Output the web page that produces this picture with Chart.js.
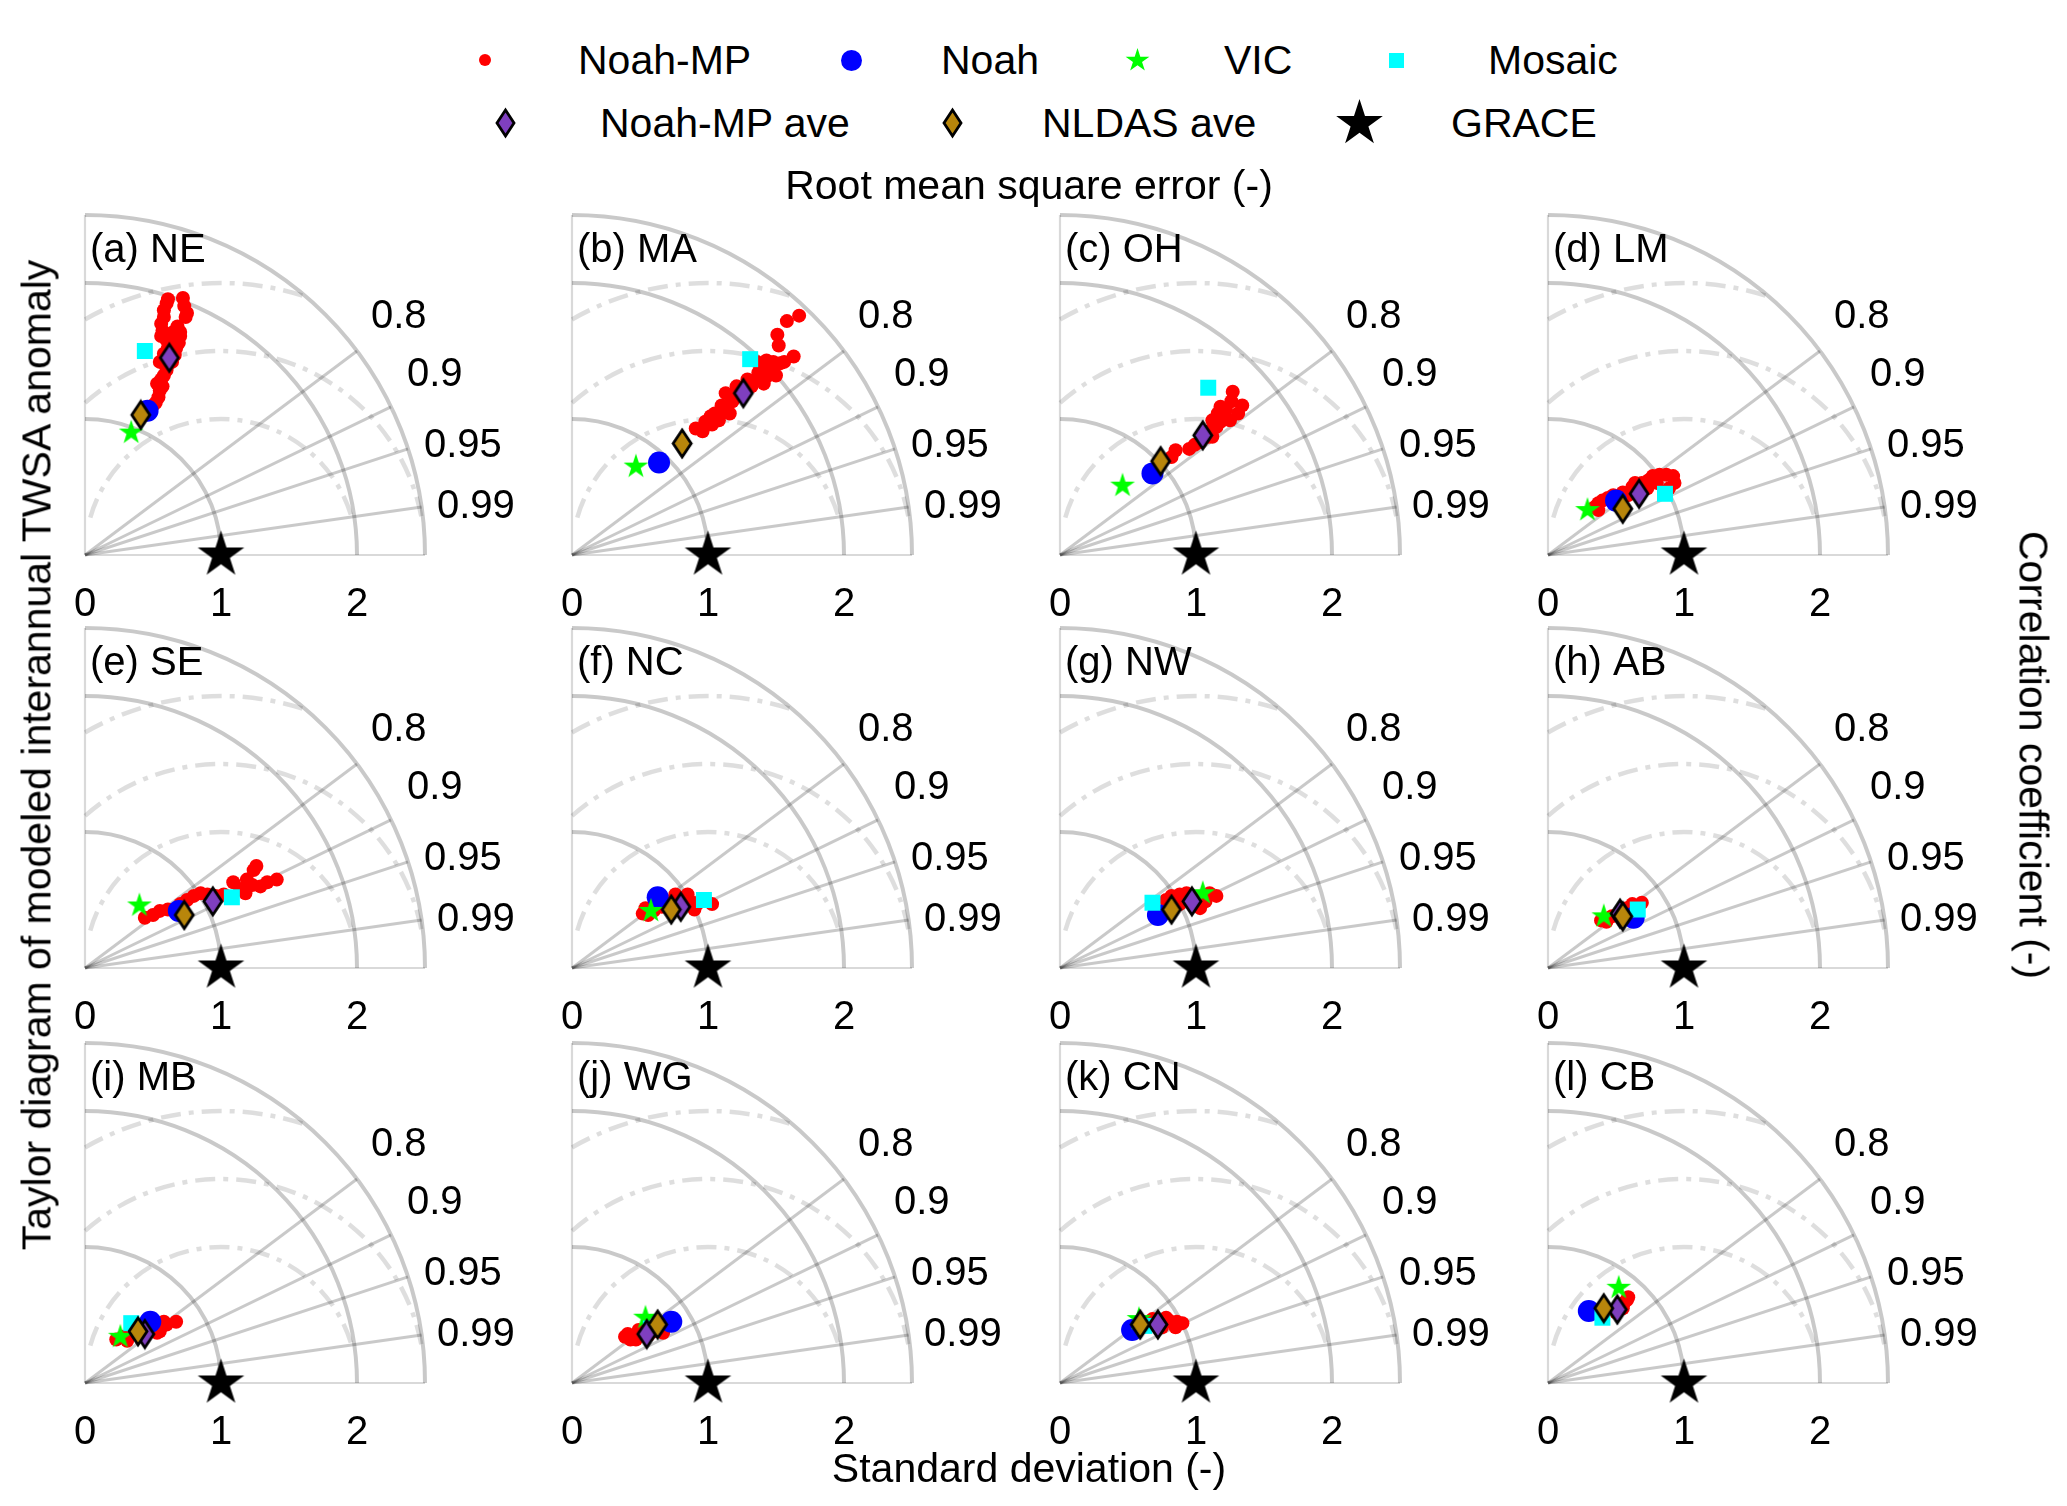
<!DOCTYPE html>
<html>
<head>
<meta charset="utf-8">
<script src="https://cdn.jsdelivr.net/npm/chart.js@4.4.1/dist/chart.umd.min.js"></script>
<style>
  body { margin: 0; background: #fff; }
  #page { position: relative; width: 2067px; height: 1506px; overflow: hidden; background: #fff;
          font-family: "Liberation Sans", Arial, sans-serif; color: #000; }
  .abs { position: absolute; }
  .txt { position: absolute; font-size: 41px; line-height: 41px; white-space: nowrap; }
</style>
</head>
<body>
<div id="page"></div>
<script>
// ---- data (x = std * R, y = std * sqrt(1 - R^2), normalised by GRACE std) ----
const regions = ['(a) NE', '(b) MA', '(c) OH', '(d) LM', '(e) SE', '(f) NC',
                 '(g) NW', '(h) AB', '(i) MB', '(j) WG', '(k) CN', '(l) CB'];
const seriesNames = ['Noah-MP', 'Noah', 'VIC', 'Mosaic', 'Noah-MP ave', 'NLDAS ave', 'GRACE'];
const stdTicks = [0, 1, 2];
const stdArcs = [1, 2, 2.5];
const corrTicks = [0.8, 0.9, 0.95, 0.99];
const rmsArcs = [1, 1.5, 2];
const grace = [1, 0];

const noahPts = [[0.46,1.06],[0.64,0.68],[0.68,0.60],[0.50,0.40],[0.69,0.42],[0.63,0.52],
                 [0.72,0.39],[0.63,0.37],[0.48,0.45],[0.73,0.45],[0.53,0.39],[0.30,0.53]];
const vicPts = [[0.34,0.90],[0.47,0.65],[0.46,0.51],[0.29,0.33],[0.40,0.46],[0.58,0.42],
                [1.05,0.55],[0.41,0.38],[0.26,0.34],[0.54,0.48],[0.58,0.47],[0.52,0.70]];
const mosaicPts = [[0.44,1.50],[1.31,1.44],[1.09,1.23],[0.86,0.45],[1.08,0.52],[0.97,0.50],
                   [0.68,0.48],[0.66,0.43],[0.34,0.44],[0.58,0.40],[0.62,0.42],[0.40,0.48]];
const mpAvePts = [[0.62,1.45],[1.26,1.19],[1.05,0.88],[0.67,0.45],[0.94,0.49],[0.80,0.45],
                  [0.97,0.49],[0.53,0.40],[0.44,0.36],[0.55,0.36],[0.72,0.43],[0.51,0.54]];
const nldasAvePts = [[0.41,1.03],[0.81,0.82],[0.74,0.69],[0.55,0.34],[0.73,0.39],[0.73,0.43],
                     [0.82,0.43],[0.55,0.38],[0.39,0.38],[0.63,0.43],[0.59,0.43],[0.41,0.55]];

const mpNE = [[0.52,1.12],[0.54,1.16],[0.55,1.21],[0.53,1.26],[0.56,1.29],[0.58,1.32],[0.60,1.36],
  [0.61,1.40],[0.64,1.42],[0.66,1.47],[0.67,1.52],[0.69,1.56],[0.70,1.61],[0.70,1.64],[0.68,1.68],
  [0.65,1.64],[0.62,1.61],[0.60,1.58],[0.56,1.61],[0.57,1.65],[0.56,1.70],[0.58,1.75],[0.58,1.80],
  [0.60,1.85],[0.61,1.88],[0.72,1.89],[0.73,1.83],[0.75,1.78],[0.74,1.75],[0.61,1.52],[0.58,1.48],
  [0.55,1.42],[0.50,1.10],[0.57,1.24]];
const mpMA = [[0.91,0.93],[0.96,0.91],[0.98,0.98],[1.03,0.96],[1.05,1.04],[1.08,0.99],[1.12,1.07],
  [1.13,1.19],[1.16,1.04],[1.18,1.13],[1.20,1.16],[1.21,1.24],[1.29,1.29],[1.32,1.24],[1.35,1.29],
  [1.37,1.34],[1.41,1.26],[1.43,1.31],[1.46,1.36],[1.50,1.32],[1.43,1.43],[1.48,1.42],[1.53,1.41],
  [1.56,1.42],[1.63,1.46],[1.52,1.54],[1.51,1.62],[1.58,1.72],[1.67,1.76],[1.36,1.42],[1.02,1.02],
  [1.10,1.10],[1.25,1.22],[1.40,1.38]];
const mpOH = [[0.95,0.78],[0.99,0.81],[1.03,0.83],[1.09,0.87],[1.11,0.92],[1.15,0.94],[1.12,0.99],
  [1.18,0.98],[1.16,1.04],[1.21,1.02],[1.22,1.07],[1.25,0.99],[1.18,1.09],[1.26,1.13],[1.27,1.20],
  [1.34,1.10],[1.31,1.04],[1.12,0.87],[0.85,0.77],[0.82,0.72]];
const mpLM = [[0.37,0.38],[0.40,0.40],[0.44,0.42],[0.62,0.50],[0.64,0.53],[0.69,0.53],[0.74,0.55],
  [0.77,0.58],[0.82,0.59],[0.87,0.59],[0.92,0.58],[0.93,0.53],[0.89,0.49],[0.73,0.49],[0.59,0.44],
  [0.37,0.33],[0.48,0.44],[0.55,0.46],[0.80,0.53],[0.34,0.35]];
const mpSE = [[0.44,0.37],[0.50,0.39],[0.55,0.42],[0.61,0.43],[0.75,0.50],[0.80,0.53],[0.85,0.55],
  [0.90,0.54],[1.02,0.54],[1.09,0.63],[1.14,0.58],[1.19,0.65],[1.24,0.72],[1.26,0.75],[1.23,0.61],
  [1.29,0.60],[1.34,0.63],[1.41,0.65],[1.18,0.55],[0.70,0.47],[0.96,0.53]];
const mpNC = [[0.54,0.44],[0.56,0.39],[0.76,0.54],[0.85,0.54],[0.87,0.49],[0.92,0.47],[1.03,0.47],
  [0.90,0.43],[0.69,0.49],[0.52,0.40],[0.80,0.51],[0.95,0.50],[0.66,0.45],[0.60,0.42]];
const mpNW = [[0.82,0.53],[0.88,0.54],[0.93,0.55],[1.07,0.49],[1.15,0.53],[1.03,0.44],[0.88,0.47],
  [1.10,0.55],[0.98,0.52],[1.00,0.47],[0.78,0.50]];
const mpAB = [[0.39,0.35],[0.69,0.48],[0.62,0.47],[0.47,0.38],[0.66,0.45],[0.58,0.44],[0.43,0.34]];
const mpMB = [[0.23,0.32],[0.31,0.31],[0.55,0.38],[0.60,0.43],[0.67,0.45],[0.58,0.45],[0.53,0.37],
  [0.28,0.34],[0.45,0.40]];
const mpWG = [[0.39,0.34],[0.43,0.32],[0.49,0.39],[0.67,0.37],[0.60,0.38],[0.47,0.32],[0.41,0.36],
  [0.56,0.35]];
const mpCN = [[0.65,0.42],[0.72,0.45],[0.80,0.46],[0.86,0.45],[0.90,0.44],[0.85,0.41],[0.75,0.41],
  [0.68,0.47],[0.62,0.44],[0.78,0.48]];
const mpCB = [[0.58,0.61],[0.59,0.63],[0.55,0.55],[0.50,0.52],[0.56,0.59]];
const noahMP = [mpNE, mpMA, mpOH, mpLM, mpSE, mpNC, mpNW, mpAB, mpMB, mpWG, mpCN, mpCB];

// ---- layout ----
const colX = [85, 572, 1060, 1548];
const rowY = [555, 968, 1383];
const UNIT = 136;
const PAD = { left: 40, right: 130, top: 30, bottom: 10 };
const AXIS_H = 70;
const FONT = '"Liberation Sans", Arial, sans-serif';
Chart.defaults.font.family = FONT;

const page = document.getElementById('page');

// ---- marker images ----
function mk(w, h) { const c = document.createElement('canvas'); c.width = w; c.height = h; return c; }
function starImg(R, color) {
  const s = Math.ceil(2 * R) + 4, c = mk(s, s), g = c.getContext('2d');
  g.translate(s / 2, s / 2);
  g.beginPath();
  for (let i = 0; i < 10; i++) {
    const r = i % 2 ? R * 0.382 : R, a = -Math.PI / 2 + i * Math.PI / 5;
    g.lineTo(r * Math.cos(a), r * Math.sin(a));
  }
  g.closePath(); g.fillStyle = color; g.fill();
  return c;
}
function diamondImg(w, h, fill) {
  const c = mk(w + 6, h + 6), g = c.getContext('2d');
  g.translate(c.width / 2, c.height / 2);
  g.beginPath(); g.moveTo(0, -h / 2); g.lineTo(w / 2, 0); g.lineTo(0, h / 2); g.lineTo(-w / 2, 0); g.closePath();
  g.fillStyle = fill; g.fill();
  g.lineWidth = 2.8; g.strokeStyle = '#000'; g.stroke();
  return c;
}
function dotImg(r, color) {
  const c = mk(2 * r + 2, 2 * r + 2), g = c.getContext('2d');
  g.beginPath(); g.arc(r + 1, r + 1, r, 0, 2 * Math.PI); g.fillStyle = color; g.fill();
  return c;
}
function squareImg(s, color) {
  const c = mk(s, s), g = c.getContext('2d');
  g.fillStyle = color; g.fillRect(0, 0, s, s);
  return c;
}

const COL = { mp: '#ff0000', noah: '#0000ff', vic: '#00ff00', mosaic: '#00ffff',
              mpAve: '#7f3fbf', nldasAve: '#b8860b', grace: '#000000' };
const graceStar = starImg(24.5, COL.grace);
const vicStar = starImg(13, COL.vic);
const mpDiamond = diamondImg(18, 27, COL.mpAve);
const nldasDiamond = diamondImg(18, 27, COL.nldasAve);

// ---- Taylor grid plugin (arcs, rays, labels) ----
const taylorGrid = {
  id: 'taylorGrid',
  beforeDatasetsDraw(chart, args, opts) {
    const { ctx } = chart, xs = chart.scales.x, ys = chart.scales.y;
    const ox = xs.getPixelForValue(0), oy = ys.getPixelForValue(0);
    const u = xs.getPixelForValue(1) - ox;
    const rMax = stdArcs[stdArcs.length - 1];
    ctx.save();
    // axes
    ctx.strokeStyle = 'rgba(0,0,0,0.15)'; ctx.lineWidth = 2.2;
    ctx.beginPath(); ctx.moveTo(ox, oy); ctx.lineTo(xs.getPixelForValue(rMax), oy);
    ctx.moveTo(ox, oy); ctx.lineTo(ox, ys.getPixelForValue(rMax)); ctx.stroke();
    // RMSE arcs around the reference point
    const rx = xs.getPixelForValue(grace[0]);
    const ranges = { 1: [16, 164], 1.5: [10, 131.8], 2: [71.8, 120] };
    ctx.setLineDash([20, 8, 5, 8]); ctx.strokeStyle = 'rgba(0,0,0,0.13)'; ctx.lineWidth = 4.5;
    rmsArcs.forEach(r => {
      const [a1, a2] = ranges[r];
      ctx.beginPath(); ctx.arc(rx, oy, r * u, -a2 * Math.PI / 180, -a1 * Math.PI / 180); ctx.stroke();
    });
    ctx.setLineDash([]);
    // std arcs
    ctx.strokeStyle = 'rgba(0,0,0,0.21)'; ctx.lineWidth = 4;
    stdArcs.forEach(r => {
      ctx.beginPath(); ctx.arc(ox, oy, r * u, -Math.PI / 2, 0); ctx.stroke();
    });
    // correlation rays
    ctx.lineWidth = 3;
    corrTicks.forEach(c => {
      const s = Math.sqrt(1 - c * c);
      ctx.beginPath(); ctx.moveTo(ox, oy);
      ctx.lineTo(xs.getPixelForValue(rMax * c), ys.getPixelForValue(rMax * s)); ctx.stroke();
    });
    // correlation labels
    ctx.fillStyle = '#000'; ctx.font = '40px ' + FONT; ctx.textBaseline = 'middle'; ctx.textAlign = 'left';
    const lab = [[286, -238], [322, -180], [339, -109], [352, -48]];
    corrTicks.forEach((c, i) => ctx.fillText(String(c), ox + lab[i][0], oy + lab[i][1]));
    // panel title
    ctx.fillText(opts.title, ox + 5, oy - 304);
    ctx.restore();
  }
};

function pts(arr) { return arr.map(p => ({ x: p[0], y: p[1] })); }

regions.forEach((name, i) => {
  const ox = colX[i % 4], oy = rowY[Math.floor(i / 4)];
  const W = PAD.left + 2.5 * UNIT + PAD.right, H = PAD.top + 2.5 * UNIT + AXIS_H + PAD.bottom;
  const cv = mk(W, H);
  cv.className = 'abs';
  cv.style.left = (ox - PAD.left) + 'px';
  cv.style.top = (oy - 2.5 * UNIT - PAD.top) + 'px';
  page.appendChild(cv);
  const base = { clip: false, pointBorderWidth: 0 };
  new Chart(cv, {
    type: 'scatter',
    data: {
      datasets: [
        Object.assign({ label: seriesNames[6], data: pts([grace]), pointStyle: graceStar, pointRadius: 20, order: 0 }, base),
        Object.assign({ label: seriesNames[5], data: pts([nldasAvePts[i]]), pointStyle: nldasDiamond, pointRadius: 12, order: 1 }, base),
        Object.assign({ label: seriesNames[4], data: pts([mpAvePts[i]]), pointStyle: mpDiamond, pointRadius: 12, order: 2 }, base),
        Object.assign({ label: seriesNames[3], data: pts([mosaicPts[i]]), pointStyle: 'rect', pointRadius: 11.3,
                        pointBackgroundColor: COL.mosaic, order: 3 }, base),
        Object.assign({ label: seriesNames[2], data: pts([vicPts[i]]), pointStyle: vicStar, pointRadius: 12, order: 4 }, base),
        Object.assign({ label: seriesNames[1], data: pts([noahPts[i]]), pointStyle: 'circle', pointRadius: 11,
                        pointBackgroundColor: COL.noah, order: 5 }, base),
        Object.assign({ label: seriesNames[0], data: pts(noahMP[i]), pointStyle: 'circle', pointRadius: 7,
                        pointBackgroundColor: COL.mp, order: 6 }, base)
      ]
    },
    options: {
      responsive: false, animation: false, events: [], devicePixelRatio: 1,
      layout: { padding: PAD },
      plugins: { legend: { display: false }, tooltip: { enabled: false }, taylorGrid: { title: name } },
      scales: {
        x: {
          type: 'linear', min: 0, max: 2.5,
          grid: { display: false, drawTicks: false }, border: { display: false },
          afterBuildTicks: s => { s.ticks = stdTicks.map(v => ({ value: v })); },
          afterFit: s => { s.height = AXIS_H; },
          ticks: { padding: 26, color: '#000', font: { size: 40, family: FONT } }
        },
        y: { type: 'linear', min: 0, max: 2.5, display: false }
      }
    },
    plugins: [taylorGrid]
  });
});

// ---- legend and outer labels ----
function addText(str, x, y, opt) {
  const d = document.createElement('div');
  d.className = 'txt'; d.textContent = str;
  d.style.left = x + 'px'; d.style.top = y + 'px';
  d.style.transform = (opt && opt.t) || 'translate(0,-50%)';
  page.appendChild(d);
}
function addMarker(img, cx, cy) {
  img.className = 'abs';
  img.style.left = (cx - img.width / 2) + 'px';
  img.style.top = (cy - img.height / 2) + 'px';
  page.appendChild(img);
}
const legendImgs = [dotImg(6, COL.mp), dotImg(10.5, COL.noah), starImg(12.5, COL.vic), squareImg(15, COL.mosaic),
                    diamondImg(17, 26, COL.mpAve), diamondImg(17, 26, COL.nldasAve), starImg(24.5, COL.grace)];
const legendPos = [[485, 578, 60], [851, 941, 60], [1137, 1224, 60], [1396, 1488, 60],
                   [505, 600, 123], [952, 1042, 123], [1359, 1451, 123]];
seriesNames.forEach((n, i) => {
  const [mx, tx, y] = legendPos[i];
  addMarker(legendImgs[i], mx, y);
  addText(n, tx, y);
});
addText('Root mean square error (-)', 1029, 185, { t: 'translate(-50%,-50%)' });
addText('Standard deviation (-)', 1029, 1468, { t: 'translate(-50%,-50%)' });
addText('Taylor diagram of modeled interannual TWSA anomaly', 37, 755, { t: 'translate(-50%,-50%) rotate(-90deg)' });
addText('Correlation coefficient (-)', 2033, 755, { t: 'translate(-50%,-50%) rotate(90deg)' });
</script>
</body>
</html>
